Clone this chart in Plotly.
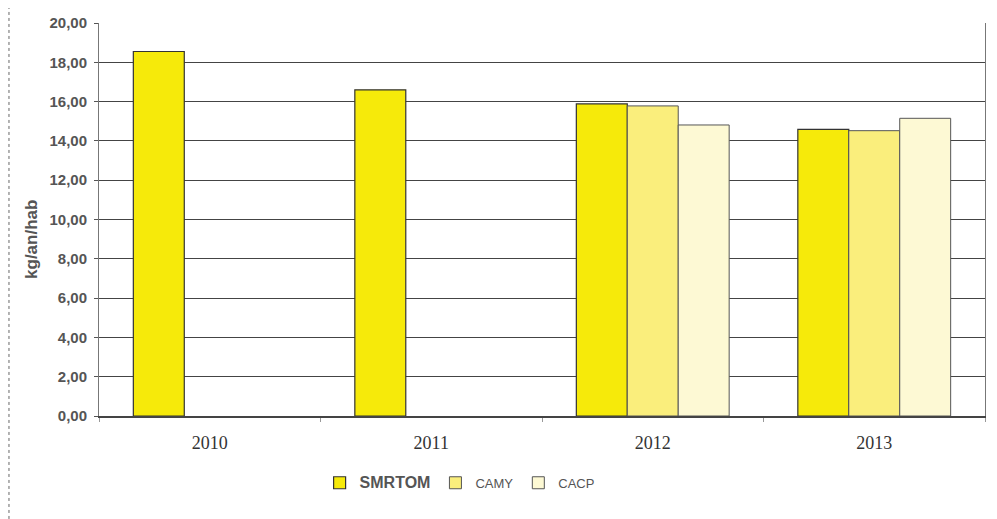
import plotly.graph_objects as go

years = ["2010", "2011", "2012", "2013"]
smrtom = [18.55, 16.60, 15.88, 14.59]
camy = [None, None, 15.78, 14.52]
cacp = [None, None, 14.81, 15.15]
y_ticks = [0, 2, 4, 6, 8, 10, 12, 14, 16, 18, 20]
y_title = "kg/an/hab"

fig = go.Figure()
fig.add_trace(go.Bar(x=years, y=smrtom, name='<span style="font-size:16px"><b>SMRTOM</b></span>',
                     marker=dict(color="#F6EA0A", line=dict(color="#333333", width=1.2))))
fig.add_trace(go.Bar(x=years, y=camy, name="CAMY",
                     marker=dict(color="#FAEE7C", line=dict(color="#555555", width=1))))
fig.add_trace(go.Bar(x=years, y=cacp, name="CACP",
                     marker=dict(color="#FDF9D4", line=dict(color="#555555", width=1))))

fig.update_layout(
    width=997, height=519,
    margin=dict(l=91, r=20, t=15, b=111, autoexpand=False),
    paper_bgcolor="white", plot_bgcolor="white",
    barmode="group", bargap=0.31, bargroupgap=0,
    separators=",.",
    font=dict(family="Liberation Sans, Arial, sans-serif", color="#333333"),
    legend=dict(orientation="h", x=0.249, xanchor="left", y=-0.170, yanchor="middle",
                font=dict(size=13, color="#555555"), itemwidth=30, tracegroupgap=0,
                traceorder="normal"),
    shapes=[dict(type="line", xref="paper", yref="paper", x0=-0.1016, x1=-0.1016, y0=-0.262, y1=1.04,
                 line=dict(color="#666666", width=1, dash="dot"))],
    annotations=[dict(text="<b>" + y_title + "</b>", xref="paper", yref="paper",
                      x=-0.0756, y=0.448, xanchor="center", yanchor="middle",
                      textangle=-90, showarrow=False,
                      font=dict(size=17, color="#555555"))],
)
fig.update_yaxes(range=[0, 20], tickvals=y_ticks, tickformat=".2f", automargin=False,
                 showgrid=True, gridcolor="#444444", gridwidth=1,
                 showline=True, linecolor="#777777", linewidth=1, mirror=True,
                 ticks="outside", ticklen=4, tickcolor="#555555", ticklabelstandoff=4,
                 tickfont=dict(size=15, color="#555555", family="Liberation Sans, Arial, sans-serif", weight="bold"),
                 zeroline=False)
fig.update_xaxes(showline=True, linecolor="#444444", linewidth=1.5, automargin=False,
                 ticks="outside", tickson="boundaries", ticklen=4, tickcolor="#999999",
                 ticklabelstandoff=10,
                 tickfont=dict(size=18, color="#333333", family="Liberation Serif, Times New Roman, serif"),
                 showgrid=False)

fig.write_html("out.html")
